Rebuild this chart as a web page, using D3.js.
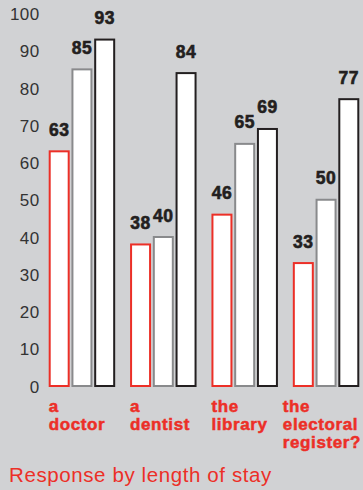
<!DOCTYPE html>
<html>
<head>
<meta charset="utf-8">
<script src="https://cdn.jsdelivr.net/npm/d3@7/dist/d3.min.js"></script>
<style>
  html, body { margin: 0; padding: 0; background: #d1d2d4; }
  svg { display: block; }
</style>
</head>
<body>
<script>
// Share of respondents who have registered with ... (%), by length of stay
const categories = [["a", "doctor"], ["a", "dentist"], ["the", "library"], ["the", "electoral", "register?"]];
const shortStay  = [63, 38, 46, 33];
const mediumStay = [85, 40, 65, 50];
const longStay   = [93, 84, 69, 77];
const yTicks = [0, 10, 20, 30, 40, 50, 60, 70, 80, 90, 100];
const title = "Response by length of stay";

const W = 363, H = 490;
const RED = "#ec2f27", GREY = "#898a8c", DARK = "#231f20";

const series = [
  { values: shortStay,  stroke: RED },
  { values: mediumStay, stroke: GREY },
  { values: longStay,   stroke: DARK }
];

const svg = d3.select("body").append("svg")
  .attr("width", W).attr("height", H);

svg.append("rect").attr("width", W).attr("height", H).attr("fill", "#d1d2d4");

const y = d3.scaleLinear().domain([0, 100]).range([386, 13.5]);

const x0 = d3.scaleBand()
  .domain(d3.range(categories.length))
  .range([48.7, 359.3])
  .paddingInner(0.183)
  .paddingOuter(0);

const x1 = d3.scaleBand()
  .domain(d3.range(series.length))
  .range([0, x0.bandwidth()])
  .paddingInner(0.077)
  .paddingOuter(0);

// y axis: labels only
const yAxis = d3.axisLeft(y).tickValues(yTicks).tickSize(0).tickPadding(0);
const gy = svg.append("g").attr("transform", "translate(39.5,0)").call(yAxis);
gy.select(".domain").remove();
gy.selectAll("text")
  .attr("fill", "#333")
  .attr("font-family", "'Liberation Sans', Arial, sans-serif")
  .attr("font-size", 17)
  .attr("dy", "0.36em")
  .style("letter-spacing", "0.4px");

// bars
const sw = 2;
const groups = svg.append("g").selectAll("g")
  .data(categories.map((c, i) => i))
  .join("g")
  .attr("transform", i => `translate(${x0(i)},0)`);

groups.selectAll("rect")
  .data(i => series.map((s, k) => ({ k, v: s.values[i], stroke: s.stroke })))
  .join("rect")
  .attr("x", d => x1(d.k) + sw / 2)
  .attr("width", x1.bandwidth() - sw)
  .attr("y", d => y(d.v))
  .attr("height", d => y(0) - y(d.v))
  .attr("fill", "#fff")
  .attr("stroke", d => d.stroke)
  .attr("stroke-width", sw);

groups.selectAll("text.val")
  .data(i => series.map((s, k) => ({ k, v: s.values[i] })))
  .join("text")
  .attr("class", "val")
  .attr("x", d => x1(d.k) + x1.bandwidth() / 2)
  .attr("y", d => y(d.v) - 15.5)
  .attr("text-anchor", "middle")
  .attr("fill", DARK)
  .attr("stroke", DARK)
  .attr("stroke-width", 0.6)
  .attr("font-family", "'Liberation Sans', Arial, sans-serif")
  .attr("font-weight", "bold")
  .attr("font-size", 17.5)
  .style("letter-spacing", "0.5px")
  .text(d => d.v);

// category labels, kept inside the canvas on the right
const labels = svg.append("g").selectAll("text")
  .data(categories)
  .join("text")
  .attr("fill", RED)
  .attr("stroke", RED)
  .attr("stroke-width", 0.5)
  .attr("font-family", "'Liberation Sans', Arial, sans-serif")
  .attr("font-weight", "bold")
  .attr("font-size", 17)
  .style("letter-spacing", "0.6px")
  .attr("y", 412);

labels.each(function (d, i) {
  const t = d3.select(this);
  t.selectAll("tspan")
    .data(d)
    .join("tspan")
    .attr("x", x0(i))
    .attr("dy", (s, j) => j === 0 ? 0 : 18)
    .text(s => s);
  const w = this.getBBox().width;
  const xPos = Math.min(x0(i), W - 2 - w);
  t.selectAll("tspan").attr("x", xPos);
});

svg.append("text")
  .attr("x", 9)
  .attr("y", 481.5)
  .attr("fill", RED)
  .attr("font-family", "'Liberation Sans', Arial, sans-serif")
  .attr("font-size", 20.5)
  .style("letter-spacing", "0.6px")
  .text(title);
</script>
</body>
</html>
